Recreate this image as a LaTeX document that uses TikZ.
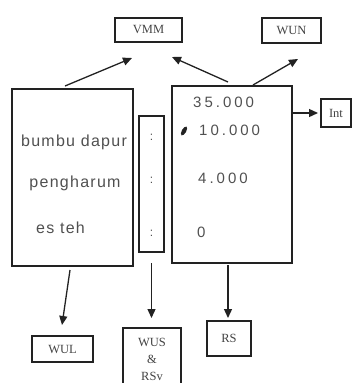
\documentclass[tikz,border=0pt]{standalone}
\usepackage{fontspec}
\setmainfont{Liberation Serif}
\newfontfamily\hand[LetterSpace=8]{Liberation Sans}
\newfontfamily\handnum[LetterSpace=20]{Liberation Sans}
\usetikzlibrary{arrows.meta}
\definecolor{ink}{HTML}{222222}
\definecolor{pencil}{HTML}{505050}
\begin{document}
\begin{tikzpicture}[x=1pt,y=-1pt,
  box/.style={draw=ink,line width=1.3pt,inner sep=0pt,outer sep=0pt,
    font=\fontsize{12.5}{14}\selectfont,text=ink!85},
  arr/.style={draw=ink,line width=1.3pt,-{Triangle[length=9pt,width=8pt]}},
  hw/.style={font=\hand\fontsize{16}{18}\selectfont,text=pencil,inner sep=0pt},
  dots/.style={font=\hand\fontsize{12}{14}\selectfont,text=pencil,inner sep=0pt},
  hwn/.style={font=\handnum\fontsize{15}{17}\selectfont,text=pencil,inner sep=0pt,anchor=west}]
\useasboundingbox (0,0) rectangle (353,383);
\clip (0,0) rectangle (353,383);

% boxes
\node[box,minimum width=67pt,minimum height=24pt] (vmm) at (148.5,30) {VMM};
\node[box,minimum width=59pt,minimum height=25pt] (wun) at (291.5,30.5) {WUN};
\node[box,minimum width=30pt,minimum height=28pt] (int) at (336,113) {Int};
\node[box,minimum width=121pt,minimum height=177pt] (items) at (72.5,177.5) {};
\node[box,minimum width=25pt,minimum height=136pt] (sep) at (151.5,184) {};
\node[box,minimum width=120pt,minimum height=177pt] (prices) at (232,174.5) {};
\node[box,minimum width=61pt,minimum height=26pt] (wul) at (62.5,349) {WUL};
\node[box,minimum width=58pt,minimum height=62pt,align=center,
  font=\fontsize{12.5}{17}\selectfont] (wus) at (152,359) {WUS\\\&\\RSv};
\node[box,minimum width=44pt,minimum height=35pt] (rs) at (229,338.5) {RS};

% handwritten entries
\node[hw] (t1) at (74,142) {bumbu dapur};
\node[hw] (t2) at (75,183) {pengharum};
\node[hw] (t3) at (60.5,228) {es teh};
\node[dots] (c1) at (151.5,137) {:};
\node[dots] (c2) at (151.5,180) {:};
\node[dots] (c3) at (151.5,233) {:};
\node[hwn] (n1) at (193,102) {35.000};
\node[hwn] (n2) at (199,130) {10.000};
\node[hwn] (n3) at (198,178) {4.000};
\node[hwn] (n4) at (197,232) {0};
\fill[ink,rotate around={60:(184,131)}] (184,131) ellipse (5pt and 2.2pt);

% connector end points
\coordinate (s1) at (65,86);   \coordinate (e1) at (132,58);
\coordinate (s2) at (228,82);  \coordinate (e2) at (172,57);
\coordinate (s3) at (253,85);  \coordinate (e3) at (298,59);
\coordinate (s4) at (prices.east|-int);  \coordinate (e4) at (318,113);
\coordinate (s5) at (70,270);  \coordinate (e5) at (62,325);
\coordinate (s6) at (151.5,263); \coordinate (e6) at (151.5,318);
\coordinate (s7) at (228,265); \coordinate (e7) at (228,318);

\draw[arr] (s1) -- (e1);
\draw[arr] (s2) -- (e2);
\draw[arr] (s3) -- (e3);
\draw[arr] (s4) -- (e4);
\draw[arr] (s5) -- (e5);
\draw[arr] (s6) -- (e6);
\draw[arr] (s7) -- (e7);
\end{tikzpicture}
\end{document}
